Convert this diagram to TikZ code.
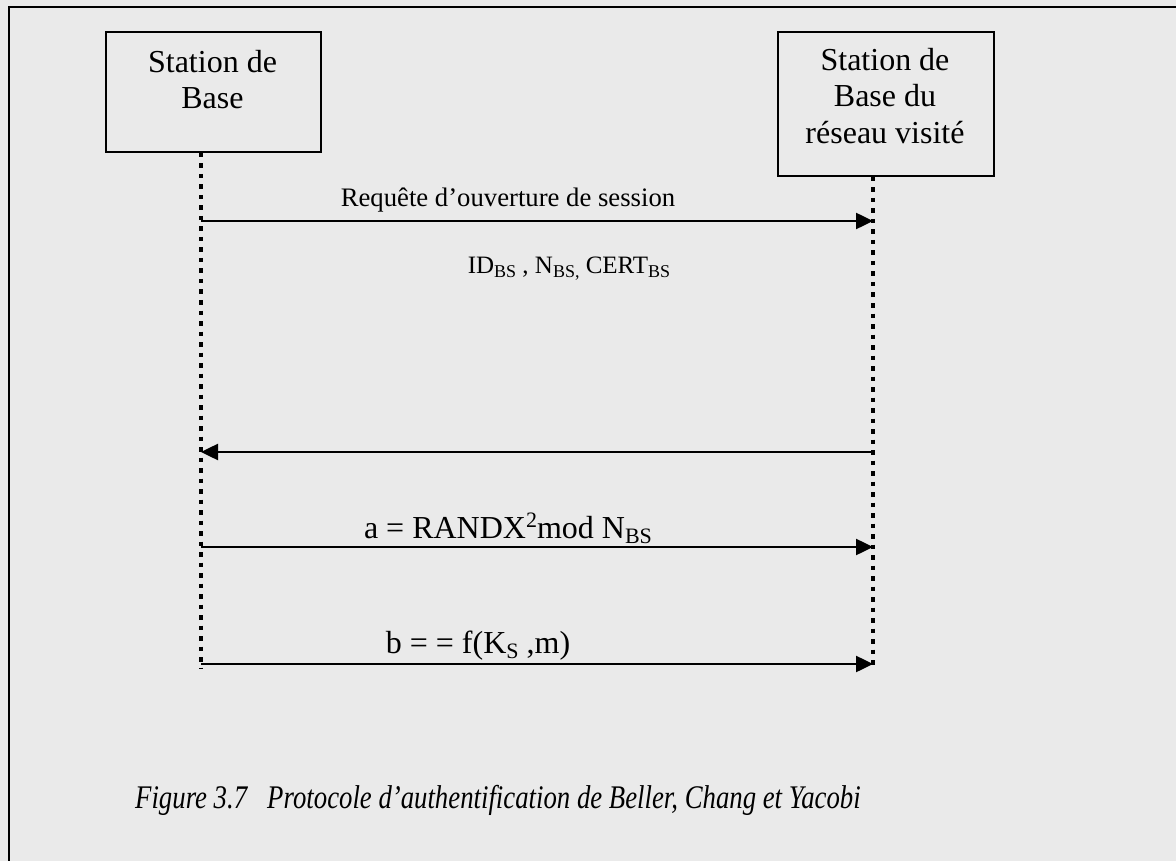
\documentclass[tikz,border=0pt]{standalone}
\usepackage{fontspec}
\usepackage{graphicx}
\setmainfont{Liberation Serif}
\usetikzlibrary{arrows.meta}
\definecolor{pagebg}{RGB}{234,234,234}
% word-processor style sub/superscripts for the 32pt and 26.7pt labels
\newcommand\subbig[1]{\raisebox{-0.16em}{\fontsize{22}{24}\selectfont #1}}
\newcommand\supbig[1]{\raisebox{0.33em}{\fontsize{22}{24}\selectfont #1}}
\newcommand\subsmall[1]{\raisebox{-0.16em}{\fontsize{18}{20}\selectfont #1}}
\begin{document}
\begin{tikzpicture}[x=1pt,y=-1pt,
  station/.style={draw=black, line width=2pt, fill=pagebg, inner sep=0pt, anchor=north west},
  stationtext/.style={inner sep=0pt, anchor=north, align=center, font=\fontsize{32}{36.5}\selectfont},
  lifeline/.style={line width=4.5pt, dash pattern=on 4.5pt off 6pt},
  msg/.style={line width=2.5pt, -{Triangle[length=17pt,width=16pt]}},
  msglabel/.style={inner sep=0pt, anchor=base, font=\fontsize{26.7}{30}\selectfont},
  biglabel/.style={inner sep=0pt, anchor=base, font=\fontsize{32}{36}\selectfont},
  caption/.style={inner sep=0pt, anchor=base west, font=\itshape\fontsize{33}{36}\selectfont},
]
% page background and frame (top and left edges)
\fill[pagebg] (0,0) rectangle (1176,861);
\useasboundingbox (0,0) rectangle (1176,861);
\draw[line width=2.5pt] (9,861) -- (9,7) -- (1176,7);

% the two stations
\node[station, minimum width=215pt, minimum height=120pt] (bs) at (105,31) {};
\node[stationtext] (bstext) at (212.5,50) {Station de\\Base};
\node[station, minimum width=216pt, minimum height=144pt] (bv) at (777,31) {};
\node[stationtext] (bvtext) at (885,48) {Station de\\Base du\\réseau visité};

% lifelines
\coordinate (bsend) at (201,668);
\coordinate (bvend) at (873,668);
\draw[lifeline] (bs.south -| bsend) -- (bsend);
\draw[lifeline] (bv.south -| bvend) -- (bvend);

% message end points on the lifelines
\coordinate (m1a) at (201,221); \coordinate (m1b) at (873,221);
\coordinate (m2a) at (873,452); \coordinate (m2b) at (201,452);
\coordinate (m3a) at (201,547); \coordinate (m3b) at (873,547);
\coordinate (m4a) at (201,664); \coordinate (m4b) at (873,664);

\draw[msg] (m1a) -- (m1b);
\draw[msg] (m2a) -- (m2b);
\draw[msg] (m3a) -- (m3b);
\draw[msg] (m4a) -- (m4b);

% message labels
\node[msglabel] (l1) at (508,207) {Requête d’ouverture de session};
\node[msglabel, font=\fontsize{25}{28}\selectfont] (l2) at (569,273) {ID\subsmall{BS} , N\subsmall{BS,} CERT\subsmall{BS}};
\node[biglabel] (l3) at (508,538) {a = RANDX\supbig{2}mod N\subbig{BS}};
\node[biglabel] (l4) at (478,653) {b = = f(K\subbig{S} ,m)};

% caption
\node[caption] (cap) at (135,808) {\scalebox{0.811}[1]{Figure 3.7\hspace{0.75em}Protocole d’authentification de Beller, Chang et Yacobi}};
\end{tikzpicture}
\end{document}
